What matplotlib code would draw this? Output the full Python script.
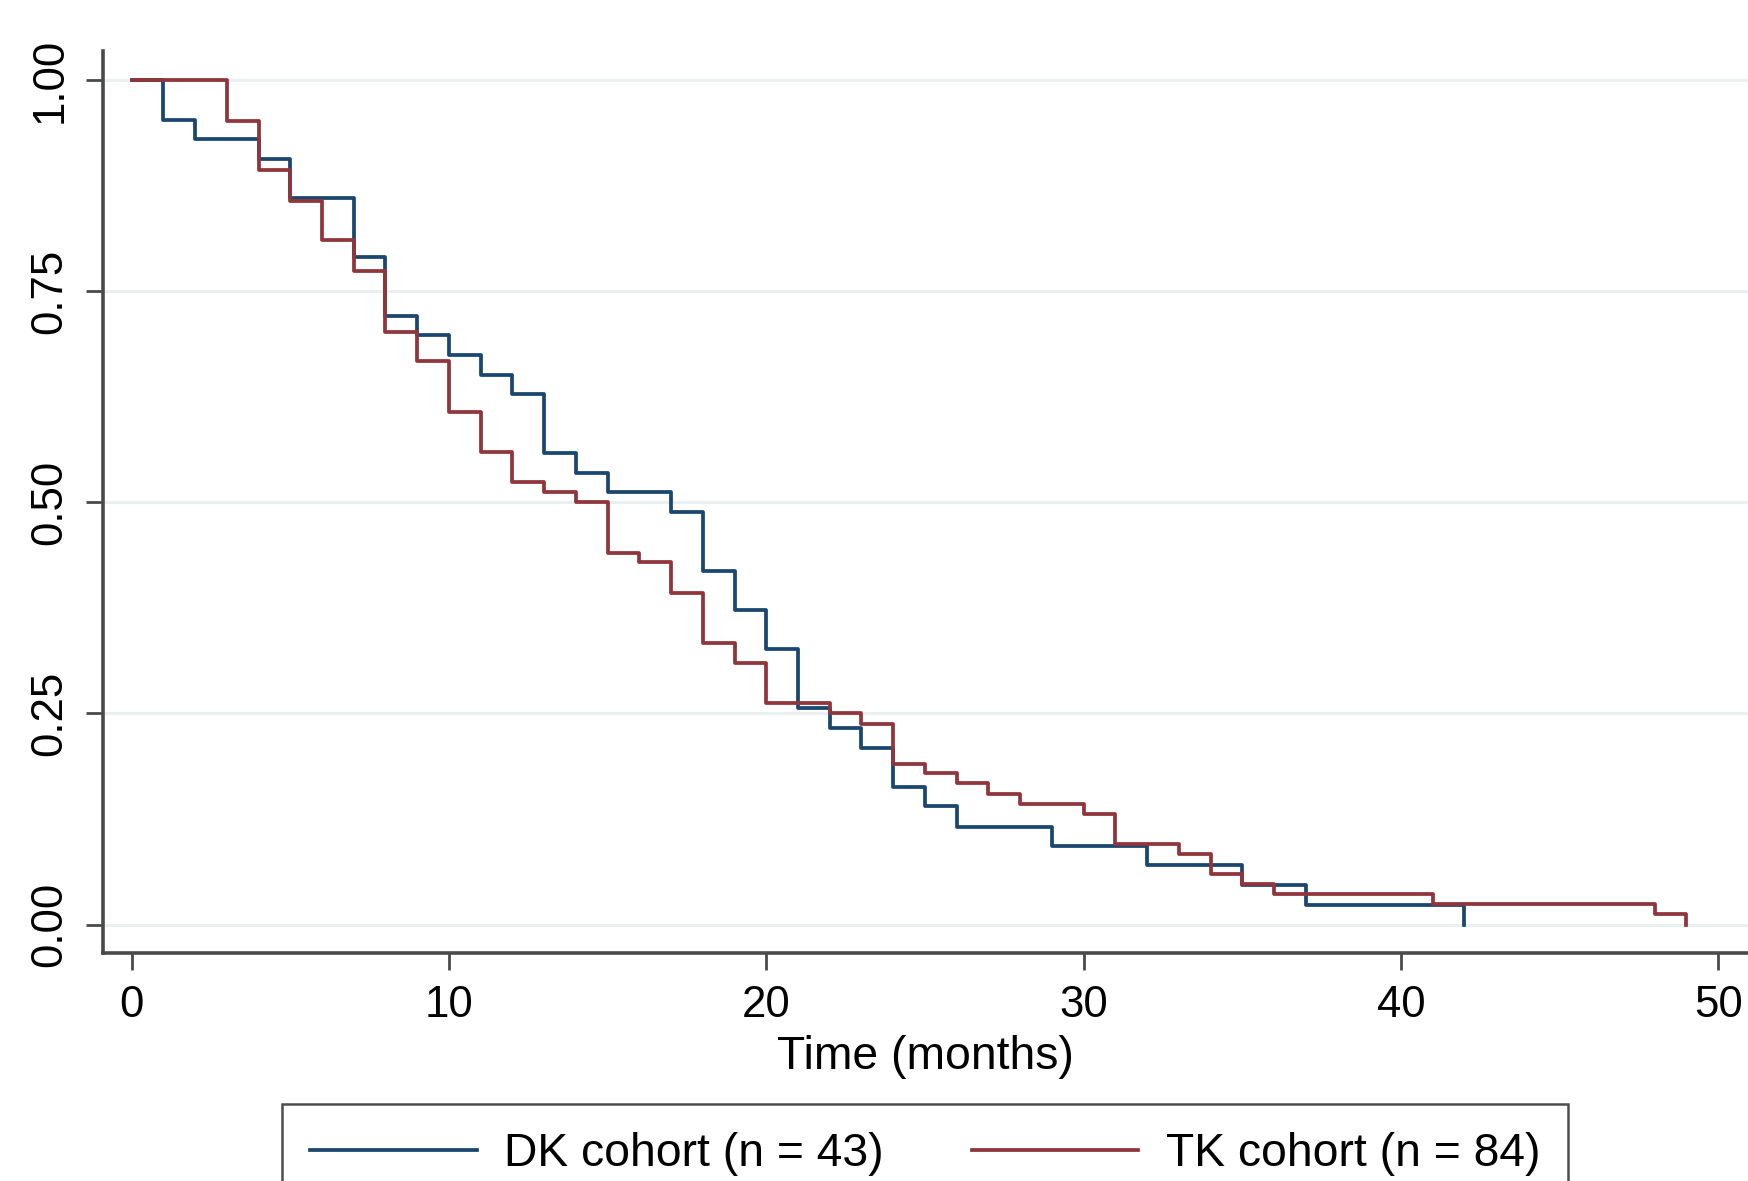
import matplotlib
matplotlib.use("Agg")
import matplotlib.pyplot as plt

plt.rcParams['font.family'] = ['Liberation Sans', 'DejaVu Sans']

# Kaplan-Meier step data
dk_times = [0, 1, 2, 4, 5, 7, 8, 9, 10, 11, 12, 13, 14, 15, 17, 18, 19, 20,
            21, 22, 23, 24, 25, 26, 29, 32, 35, 37, 42]
dk_surv = [1.000, 0.953, 0.930, 0.907, 0.860, 0.791, 0.721, 0.698, 0.674,
           0.651, 0.628, 0.558, 0.535, 0.512, 0.488, 0.419, 0.372, 0.326,
           0.256, 0.233, 0.209, 0.163, 0.140, 0.116, 0.093, 0.070, 0.047,
           0.023, 0.000]

tk_times = [0, 3, 4, 5, 6, 7, 8, 9, 10, 11, 12, 13, 14, 15, 16, 17, 18, 19,
            20, 22, 23, 24, 25, 26, 27, 28, 30, 31, 33, 34, 35, 36, 41, 48, 49]
tk_surv = [1.000, 0.952, 0.893, 0.857, 0.810, 0.774, 0.702, 0.667, 0.607,
           0.560, 0.524, 0.512, 0.500, 0.440, 0.429, 0.393, 0.333, 0.310,
           0.262, 0.250, 0.238, 0.190, 0.179, 0.167, 0.155, 0.143, 0.131,
           0.095, 0.083, 0.060, 0.048, 0.036, 0.024, 0.012, 0.000]

series_labels = ["DK cohort (n = 43)", "TK cohort (n = 84)"]
x_ticks = [0, 10, 20, 30, 40, 50]
y_ticks = [0.00, 0.25, 0.50, 0.75, 1.00]
y_ticklabels = ["0.00", "0.25", "0.50", "0.75", "1.00"]
x_label = "Time (months)"

W, H = 1568, 1059
fig = plt.figure(figsize=(17.49, 11.81), dpi=100)
ax = fig.add_axes([92 / W, 1 - 855 / H, 1 - 92 / W, (855 - 46) / H])

blue = "#1a476f"
red = "#90353b"
grid_c = "#e8f0f1"
axis_c = "#4a4a4a"

for yv in y_ticks:
    ax.axhline(yv, color=grid_c, lw=2.2, zorder=0)

l1, = ax.step(dk_times, dk_surv, where='post', color=blue, lw=2.7,
              label=series_labels[0], zorder=3)
l2, = ax.step(tk_times, tk_surv, where='post', color=red, lw=2.7,
              label=series_labels[1], zorder=3)

ax.set_xlim(-0.914, 50.97)
ax.set_ylim(-0.0343, 1.034)
ax.set_xticks(x_ticks)
ax.set_yticks(y_ticks)
ax.set_yticklabels(y_ticklabels)

for s in ['top', 'right']:
    ax.spines[s].set_visible(False)
for s in ['left', 'bottom']:
    ax.spines[s].set_color(axis_c)
    ax.spines[s].set_linewidth(2.6)

ax.tick_params(axis='both', direction='out', length=12, width=2.0,
               colors=axis_c, labelcolor='black', labelsize=31.5)
ax.tick_params(axis='y', pad=11)
ax.tick_params(axis='x', pad=11)
for lab in ax.get_yticklabels():
    lab.set_rotation(90)
    lab.set_va('center')

ax.set_xlabel(x_label, fontsize=33.3, labelpad=6)

leg = fig.legend(handles=[l1, l2], loc='upper center',
                 bbox_to_anchor=(829.5 / W, 1 - 990 / H), ncol=2,
                 fontsize=33.3, frameon=True, fancybox=False,
                 handlelength=3.6, handletextpad=0.6, columnspacing=1.9,
                 borderpad=0.6, borderaxespad=0)
leg.get_frame().set_edgecolor('#222222')
leg.get_frame().set_linewidth(1.8)

fig.savefig("out.png", dpi=100, facecolor='white')
